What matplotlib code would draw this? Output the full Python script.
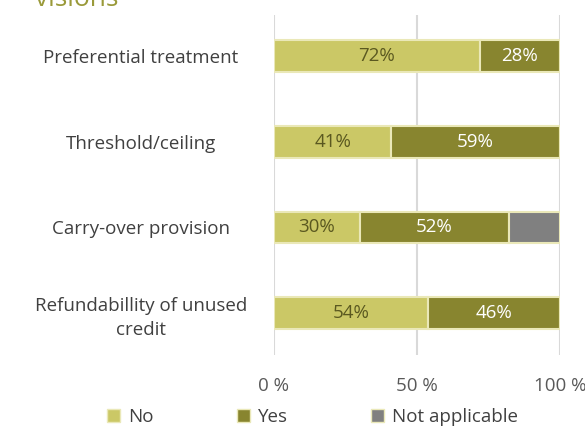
import numpy as np
import matplotlib.pyplot as plt
from matplotlib.patches import Patch

categories = ["Preferential treatment", "Threshold/ceiling", "Carry-over provision",
              "Refundabillity of unused\ncredit"]
no_vals = [72, 41, 30, 54]
yes_vals = [28, 59, 52, 46]
na_vals = [0, 0, 18, 0]
x_ticks = [0, 50, 100]
x_tick_labels = ["0 %", "50 %", "100 %"]

plt.rcParams['font.family'] = ['Open Sans', 'DejaVu Sans']

c_no = "#CBC866"
c_yes = "#88852F"
c_na = "#808080"
c_edge = "#EAE8B8"

W, H = 585, 429
fig = plt.figure(figsize=(W / 100, H / 100), dpi=100)
ax = fig.add_axes([274 / W, 1 - 355 / H, (560 - 274) / W, (355 - 15) / H])

y = np.arange(len(categories))
h = 0.37
ax.barh(y, no_vals, height=h, color=c_no, edgecolor=c_edge, linewidth=1.5, zorder=3)
ax.barh(y, yes_vals, left=no_vals, height=h, color=c_yes, edgecolor=c_edge, linewidth=1.5, zorder=3)
ax.barh(y, na_vals, left=np.add(no_vals, yes_vals), height=h, color=c_na, edgecolor=c_edge,
        linewidth=1.5, zorder=3)

fs = 13.5
for i in range(len(categories)):
    ax.text(no_vals[i] / 2, y[i], f"{no_vals[i]}%", ha="center", va="center",
            color="#5A5820", fontsize=fs, zorder=4)
    ax.text(no_vals[i] + yes_vals[i] / 2, y[i], f"{yes_vals[i]}%", ha="center", va="center",
            color="white", fontsize=fs, zorder=4)

ax.set_xlim(0, 100)
ax.set_ylim(3.49, -0.48)
ax.set_xticks(x_ticks)
ax.set_xticklabels(x_tick_labels, fontsize=fs, color="#595959")
ax.tick_params(axis="x", length=0, pad=16)
ax.set_yticks(y)
ax.set_yticklabels(categories, fontsize=fs, color="#404040", ha="center", linespacing=1.45)
ax.tick_params(axis="y", length=0, pad=96)
for s in ax.spines.values():
    s.set_visible(False)
ax.grid(axis="x", color="#D9D9D9", linewidth=1.5, zorder=0)

fig.text(35 / W, 1 - 6 / H, "visions", fontsize=19, color="#9A9A3A", va="baseline")

handles = [Patch(facecolor=c_no, edgecolor=c_edge, label="No"),
           Patch(facecolor=c_yes, edgecolor=c_edge, label="Yes"),
           Patch(facecolor=c_na, edgecolor=c_edge, label="Not applicable")]
fig.legend(handles=handles, loc="center left", bbox_to_anchor=(98 / W, 1 - 417 / H), ncol=3,
           frameon=False, fontsize=fs, handlelength=0.7, handleheight=0.7, handletextpad=0.4,
           columnspacing=4.45, labelcolor="#404040", borderpad=0)

fig.savefig("out.png", dpi=100)
